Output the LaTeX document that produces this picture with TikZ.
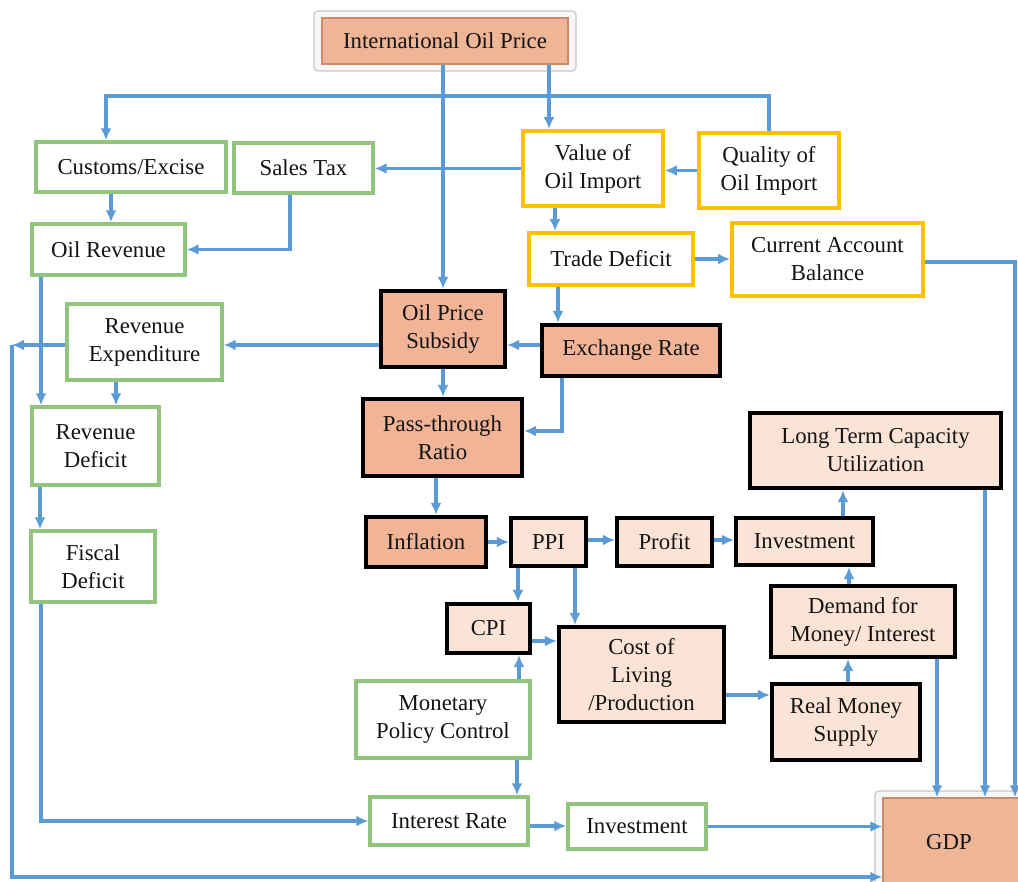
\documentclass[tikz,border=0pt]{standalone}
\usepackage{fontspec}
\setmainfont{Liberation Serif}
\usetikzlibrary{arrows.meta}
\definecolor{salm}{HTML}{F2B497}
\definecolor{salmtop}{HTML}{EEB596}
\definecolor{salmedge}{HTML}{C98B6C}
\definecolor{peach}{HTML}{FBE4D6}
\definecolor{grn}{HTML}{93C47D}
\definecolor{org}{HTML}{FFC000}
\definecolor{blu}{HTML}{5B9BD5}
\definecolor{txt}{HTML}{141414}
\tikzset{
  base/.style={rectangle, align=center, text=txt, inner sep=2pt,
    font=\fontsize{22.8}{28}\selectfont},
  gbox/.style={base, draw=grn, line width=3.4pt, fill=white},
  obox/.style={base, draw=org, line width=3.8pt, fill=white},
  kbox/.style={base, draw=black, line width=4.2pt, fill=salm},
  pbox/.style={base, draw=black, line width=4.2pt, fill=peach},
  tbox/.style={base, draw=salmedge, line width=1.5pt, fill=salmtop},
  glow/.style={draw=black!22, line width=1.2pt, fill=black!3, rounded corners=4pt},
  arr/.style={draw=blu, line width=3.2pt, -{Latex[length=12pt,width=11pt]}},
  ln/.style={draw=blu, line width=3.2pt}
}
\begin{document}
\begin{tikzpicture}[x=1pt,y=-1pt]
\useasboundingbox (0,0) rectangle (1018,882);
% glows
\draw[glow] (314,11) rectangle (576,71);
\draw[glow] (875,791) rectangle (1030,892);
% nodes
\node[tbox, minimum width=246, minimum height=46] (iop) at (445,41) {International Oil Price};
\node[gbox, minimum width=190, minimum height=50] (cust) at (131,167) {Customs/Excise};
\node[gbox, minimum width=139, minimum height=50] (stax) at (303.5,168) {Sales Tax};
\node[obox, minimum width=140, minimum height=75] (voi) at (593,168.5) {Value of\\Oil Import};
\node[obox, minimum width=140, minimum height=75] (qoi) at (769,170.5) {Quality of\\Oil Import};
\node[gbox, minimum width=153, minimum height=51] (orev) at (108.5,249.5) {Oil Revenue};
\node[obox, minimum width=164, minimum height=52] (td) at (611,259) {Trade Deficit};
\node[obox, minimum width=191, minimum height=73] (cab) at (827.5,259.5) {Current Account\\Balance};
\node[gbox, minimum width=155, minimum height=76] (rexp) at (144.5,342) {Revenue\\Expenditure};
\node[kbox, minimum width=124, minimum height=76] (ops) at (443,329) {Oil Price\\Subsidy};
\node[kbox, minimum width=178, minimum height=51] (er) at (631,350.5) {Exchange Rate};
\node[gbox, minimum width=127, minimum height=78] (rdef) at (95.5,446) {Revenue\\Deficit};
\node[gbox, minimum width=124, minimum height=71] (fdef) at (93,566.5) {Fiscal\\Deficit};
\node[kbox, minimum width=159, minimum height=77] (ptr) at (442.5,437.5) {Pass-through\\Ratio};
\node[pbox, minimum width=251, minimum height=75] (ltc) at (875.5,450.5) {Long Term Capacity\\Utilization};
\node[kbox, minimum width=120, minimum height=50] (infl) at (426,542) {Inflation};
\node[pbox, minimum width=75, minimum height=48] (ppi) at (548.5,542) {PPI};
\node[pbox, minimum width=95, minimum height=48] (prof) at (664.5,542) {Profit};
\node[pbox, minimum width=137, minimum height=47] (inv1) at (804.5,541.5) {Investment};
\node[pbox, minimum width=83, minimum height=49] (cpi) at (488.5,628.5) {CPI};
\node[pbox, minimum width=165, minimum height=95] (col) at (641.5,674.5) {Cost of\\Living\\/Production};
\node[pbox, minimum width=184, minimum height=71] (dfm) at (863,621.5) {Demand for\\Money/ Interest};
\node[gbox, minimum width=174, minimum height=77] (mpc) at (443,719.5) {Monetary\\Policy Control};
\node[pbox, minimum width=148, minimum height=76] (rms) at (846,722) {Real Money\\Supply};
\node[gbox, minimum width=158, minimum height=48] (irate) at (449,821) {Interest Rate};
\node[gbox, minimum width=138, minimum height=45] (inv2) at (637,826.5) {Investment};
\node[tbox, minimum width=142, minimum height=88, text width=124, align=center] (gdp) at (954,842) {\hspace*{-10pt}GDP};
% connectors
\draw[arr] (549,0 |- iop.south) -- (549,0 |- voi.north);
\draw[arr] (iop.south -| ops.north) -- (ops.north);
\draw[arr] (qoi.north) |- (106,96) -- (106,0 |- cust.north);
\draw[arr] (voi.west) -- (stax.east |- voi.west);
\draw[arr] (qoi.west) -- (voi.east |- qoi.west);
\draw[arr] (111,0 |- cust.south) -- (111,0 |- orev.north);
\draw[arr] (290,0 |- stax.south) |- (orev.east);
\draw[arr] (555,0 |- voi.south) -- (555,0 |- td.north);
\draw[arr] (td.east) -- (cab.west |- td.east);
\draw[arr] (cab.east |- 0,262) -| (1015,0 |- gdp.north);
\draw[arr] (558,0 |- td.south) -- (558,0 |- er.north);
\draw[arr] (er.west |- 0,345) -- (ops.east |- 0,345);
\draw[arr] (ops.west |- 0,345) -- (rexp.east |- 0,345);
\draw[arr] (rexp.west |- 0,345) -- (12,345);
\coordinate (lc) at (12,345);
\draw[arr] (lc) |- (gdp.west |- 0,877);
\draw[arr] (41,0 |- orev.south) -- (41,0 |- rdef.north);
\draw[arr] (116,0 |- rexp.south) -- (116,0 |- rdef.north);
\draw[arr] (40,0 |- rdef.south) -- (40,0 |- fdef.north);
\draw[arr] (41,0 |- fdef.south) |- (irate.west);
\draw[arr] (ops.south) -- (443,0 |- ptr.north);
\draw[arr] (562,0 |- er.south) |- (ptr.east |- 0,431);
\draw[arr] (436,0 |- ptr.south) -- (436,0 |- infl.north);
\draw[arr] (infl.east) -- (ppi.west |- infl.east);
\draw[arr] (ppi.east |- 0,540) -- (prof.west |- 0,540);
\draw[arr] (prof.east |- 0,540) -- (inv1.west |- 0,540);
\draw[arr] (843,0 |- inv1.north) -- (843,0 |- ltc.south);
\draw[arr] (849,0 |- dfm.north) -- (849,0 |- inv1.south);
\draw[arr] (848,0 |- rms.north) -- (848,0 |- dfm.south);
\draw[arr] (518,0 |- ppi.south) -- (518,0 |- cpi.north);
\draw[arr] (575,0 |- ppi.south) -- (575,0 |- col.north);
\draw[arr] (cpi.east |- 0,641) -- (col.west |- 0,641);
\draw[arr] (519,0 |- mpc.north) -- (519,0 |- cpi.south);
\draw[arr] (col.east |- 0,695) -- (rms.west |- 0,695);
\draw[arr] (517,0 |- mpc.south) -- (517,0 |- irate.north);
\draw[arr] (irate.east |- 0,826) -- (inv2.west |- 0,826);
\draw[arr] (inv2.east) -- (gdp.west |- inv2.east);
\draw[arr] (937,0 |- dfm.south) -- (937,0 |- gdp.north);
\draw[arr] (985,0 |- ltc.south) -- (985,0 |- gdp.north);
\end{tikzpicture}
\end{document}
